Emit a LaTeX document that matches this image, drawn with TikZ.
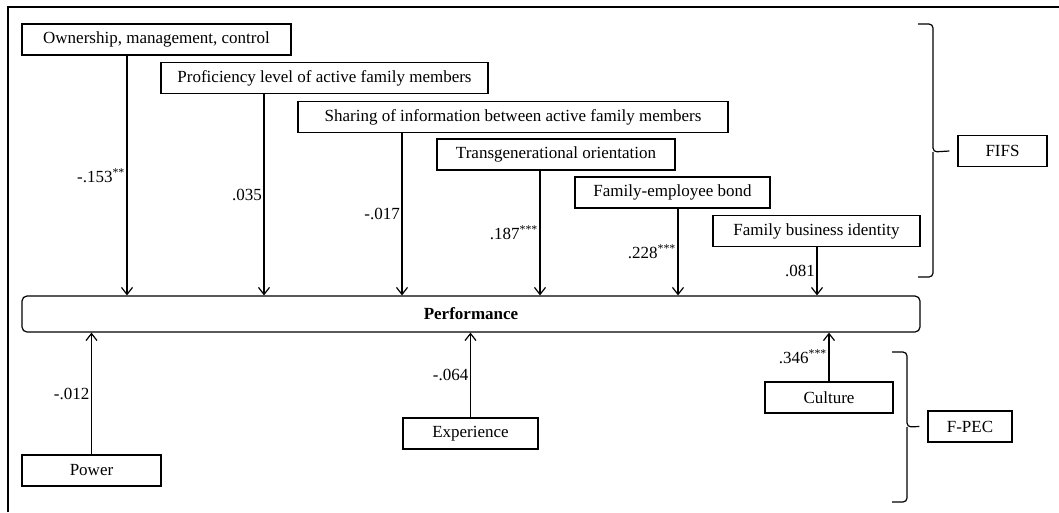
\documentclass[tikz,border=0pt]{standalone}
\usepackage{fontspec}
\setmainfont{Liberation Serif}
\usetikzlibrary{arrows.meta}
\usetikzlibrary{calc}

\begin{document}
\begin{tikzpicture}[x=1pt,y=1pt,font=\fontsize{17}{20}\selectfont,
  var/.style={draw,line width=1.2pt,minimum height=31,inner sep=0pt},
  effect/.style={line width=1.2pt,-{Straight Barb[length=7pt,width=11pt]}},
  coef/.style={left,inner sep=1.5pt},
  bracket/.style={line width=1.2pt,rounded corners=4}]

\useasboundingbox (0,0) rectangle (1059,-512);
\draw[line width=1.5pt] (8,-512) -- (8,-7) -- (1059,-7);

\node[var,minimum width=898,minimum height=36,rounded corners=5] (perf) at (471,-314) {\textbf{Performance}};

\node[var,minimum width=269] (own)   at (156.5,-39.5) {Ownership, management, control};
\node[var,minimum width=327] (prof)  at (324.5,-78)   {Proficiency level of active family members};
\node[var,minimum width=430] (share) at (513,-117)    {Sharing of information between active family members};
\node[var,minimum width=238] (trans) at (556,-154.5)  {Transgenerational orientation};
\node[var,minimum width=195] (bond)  at (672.5,-192.5) {Family-employee bond};
\node[var,minimum width=207] (ident) at (816.5,-231)  {Family business identity};

\node[var,minimum width=139] (power) at (91.5,-470.5) {Power};
\node[var,minimum width=135] (exper) at (470.5,-433.5) {Experience};
\node[var,minimum width=128] (cult)  at (829,-397.5)  {Culture};

\node[var,minimum width=89] (fifs) at (1002.5,-151) {FIFS};
\node[var,minimum width=84] (fpec) at (970,-426.5)  {F-PEC};

\coordinate (own out)   at ([xshift=-29.5]own.south);
\coordinate (prof out)  at ([xshift=-60.5]prof.south);
\coordinate (share out) at ([xshift=-111]share.south);
\coordinate (trans out) at ([xshift=-16]trans.south);
\coordinate (bond out)  at ([xshift=5.5]bond.south);
\coordinate (ident out) at ([xshift=0.5]ident.south);

\draw[effect] (own out) -- (own out |- perf.north) node[coef,midway] {-.153\textsuperscript{**}};
\draw[effect] (prof out) -- (prof out |- perf.north) node[coef,midway] {.035};
\draw[effect] (share out) -- (share out |- perf.north) node[coef,midway] {-.017};
\draw[effect] (trans out) -- (trans out |- perf.north) node[coef,midway] {.187\textsuperscript{***}};
\draw[effect] (bond out) -- (bond out |- perf.north) node[coef,midway] {.228\textsuperscript{***}};
\draw[effect] (ident out) -- (ident out |- perf.north) node[coef,midway] {.081};

\draw[effect] (power.north) -- (power.north |- perf.south) node[coef,midway] {-.012};
\draw[effect] (exper.north) -- (exper.north |- perf.south) node[coef,midway] {-.064};
\draw[effect] (cult.north) -- (cult.north |- perf.south) node[coef,midway] {.346\textsuperscript{***}};

% braces
\coordinate (fifs tip) at ([xshift=-8]fifs.west);
\draw[bracket] (918,-24) -- (933,-24) -- (933,-152) -- (fifs tip);
\draw[bracket] (918,-277) -- (933,-277) -- (933,-152);
\coordinate (fpec tip) at ([xshift=-8]fpec.west);
\draw[bracket] (892,-352) -- (907,-352) -- (907,-427) -- (fpec tip);
\draw[bracket] (892,-502) -- (907,-502) -- (907,-427);

\end{tikzpicture}
\end{document}
